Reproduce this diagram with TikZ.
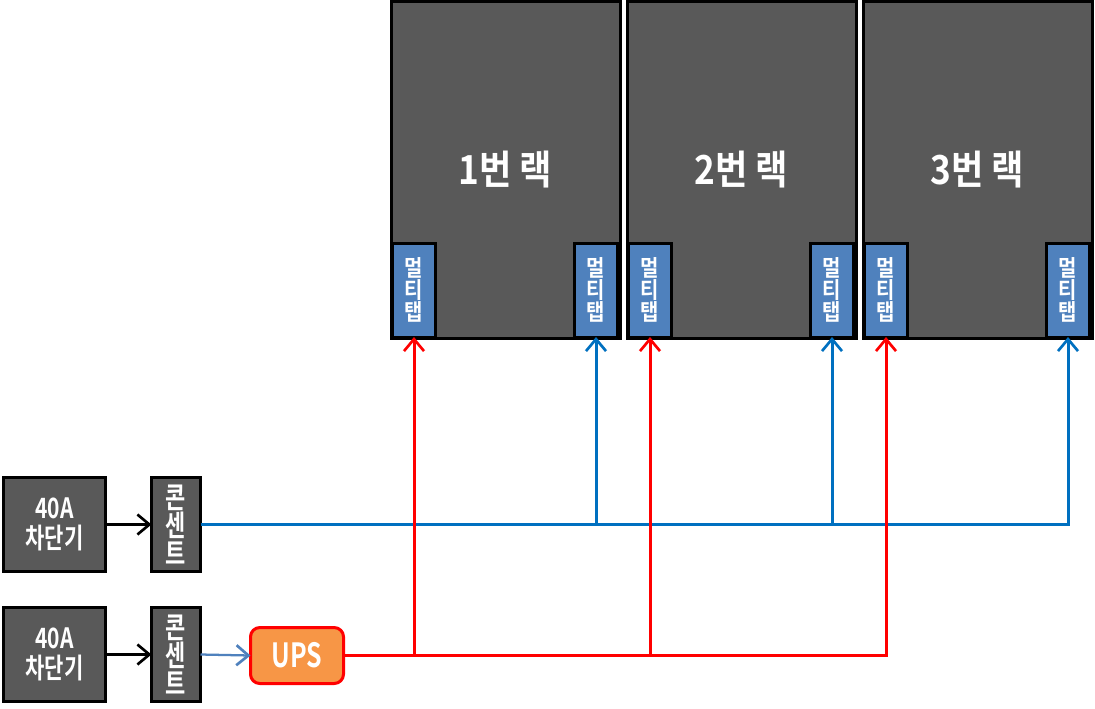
\documentclass[tikz,border=0pt]{standalone}
\usepackage{fontspec}
\newfontfamily\kr{Noto Sans CJK KR Bold}
\newfontfamily\krm{Noto Sans CJK KR Bold}[FakeStretch=0.88]
\newfontfamily\krn{Noto Sans CJK KR Bold}[FakeStretch=0.75]
\usetikzlibrary{arrows.meta}
\definecolor{rackgray}{HTML}{595959}
\definecolor{tapblue}{HTML}{4F81BD}
\definecolor{lineblue}{HTML}{0070C0}
\definecolor{upsorange}{HTML}{F79646}
\definecolor{linered}{HTML}{FF0000}
\tikzset{
  rackbox/.style={draw=black, line width=2.25pt, fill=rackgray, minimum width=171.75pt, minimum height=252.75pt, inner sep=0pt, outer sep=0pt, text=white, font=\krm\fontsize{30}{32}\selectfont},
  tapbox/.style={draw=black, line width=2.25pt, fill=tapblue, minimum width=32.25pt, minimum height=70.5pt, inner sep=0pt, outer sep=0pt, text=white, align=center, font=\krm\fontsize{17}{16.5}\selectfont},
  brkbox/.style={draw=black, line width=2.25pt, fill=rackgray, minimum width=76.5pt, minimum height=70.5pt, inner sep=0pt, outer sep=0pt, text=white, align=center, font=\krn\fontsize{21}{22.5}\selectfont},
  outbox/.style={draw=black, line width=2.25pt, fill=rackgray, minimum width=36.75pt, minimum height=70.5pt, inner sep=0pt, outer sep=0pt, text=white, align=center, font=\krn\fontsize{22}{21}\selectfont},
  upsbox/.style={draw=linered, line width=2.25pt, fill=upsorange, rounded corners=7pt, minimum width=69.75pt, minimum height=42pt, inner sep=0pt, outer sep=0pt, text=white, font=\krn\fontsize{25}{26}\selectfont},
  tipstyle/.style={-{Straight Barb[length=9pt,width=15pt,line width=2pt]}},
  blkarrow/.style={draw=black, line width=1.9pt, tipstyle},
  bluearrow/.style={draw=lineblue, line width=2.25pt, tipstyle},
  ltbluearrow/.style={draw=tapblue, line width=1.7pt, tipstyle},
  redarrow/.style={draw=linered, line width=2.25pt, tipstyle},
}
\begin{document}
\begin{tikzpicture}[x=0.75pt,y=-0.75pt]
\useasboundingbox[fill=white] (0,0) rectangle (1095,708);
% racks
\node[rackbox] (r1) at (505.5,170) {1번 랙};
\node[rackbox] (r2) at (741.5,170) {2번 랙};
\node[rackbox] (r3) at (977.5,170) {3번 랙};
% multitaps
\node[tapbox] (m1) at (414,290) {멀\\티\\탭};
\node[tapbox] (m2) at (596,290) {멀\\티\\탭};
\node[tapbox] (m3) at (650,290) {멀\\티\\탭};
\node[tapbox] (m4) at (832,290) {멀\\티\\탭};
\node[tapbox] (m5) at (886,290) {멀\\티\\탭};
\node[tapbox] (m6) at (1068,290) {멀\\티\\탭};
% breakers
\node[brkbox] (b1) at (54.5,524.5) {40A\\차단기};
\node[brkbox] (b2) at (54.5,654.5) {40A\\차단기};
% outlets
\node[outbox] (o1) at (176,524.5) {콘\\센\\트};
\node[outbox] (o2) at (176,654.5) {콘\\센\\트};
% UPS
\node[upsbox] (ups) at (297,655.5) {UPS};
% black arrows
\draw[blkarrow] (b1.east) -- (o1.west);
\draw[blkarrow] (b2.east) -- (o2.west);
\draw[ltbluearrow] (o2.east) -- (ups.west);
% blue lines
\draw[bluearrow] (o1.east) -- (o1.east -| m6.south) -- (m6.south);
\draw[bluearrow] (o1.east -| m2.south) -- (m2.south);
\draw[bluearrow] (o1.east -| m4.south) -- (m4.south);
% red lines
\draw[redarrow] (ups.east) -- (ups.east -| m5.south) -- (m5.south);
\draw[redarrow] (ups.east -| m1.south) -- (m1.south);
\draw[redarrow] (ups.east -| m3.south) -- (m3.south);
\end{tikzpicture}
\end{document}
